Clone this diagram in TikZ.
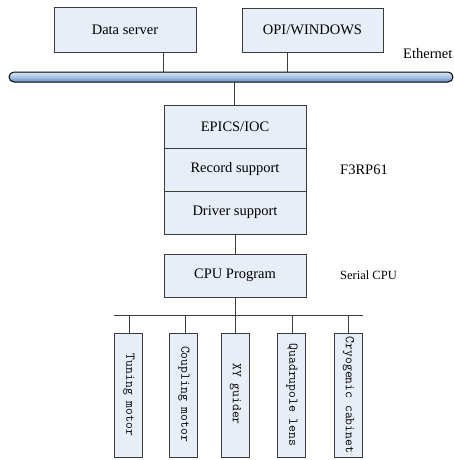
\documentclass[tikz,border=0pt]{standalone}
\usepackage{fontspec}
\setmainfont{Liberation Serif}
\definecolor{boxfill}{RGB}{232,238,247}
\definecolor{linec}{RGB}{60,60,60}
\definecolor{busmid}{RGB}{165,195,228}
\definecolor{busdark}{RGB}{100,135,185}
\begin{document}
\begin{tikzpicture}[x=1pt,y=-1pt,
  box/.style={draw=linec,line width=0.8pt,fill=boxfill,inner sep=0pt,outer sep=0pt,font=\fontsize{14.5}{16}\selectfont},
  vbox/.style={draw=linec,line width=0.8pt,fill=boxfill,inner sep=0pt,outer sep=0pt,minimum width=28pt,minimum height=124pt},
  vtext/.style={rotate=-90,font=\ttfamily\fontsize{13.3}{14}\selectfont,inner sep=0pt},
  link/.style={draw=linec,line width=0.9pt},
  lbl/.style={font=\fontsize{14.5}{16}\selectfont,inner sep=0pt,anchor=west}]
\useasboundingbox (0,0) rectangle (454,460);
% top boxes
\node[box,minimum width=142pt,minimum height=45pt] (ds) at (125,29.5) {Data server};
\node[box,minimum width=141pt,minimum height=44pt] (opi) at (312.5,30) {OPI/WINDOWS};
\node[lbl] (eth) at (403,54) {Ethernet};
% bus
\node[draw=black,line width=1pt,rounded corners=5pt,top color=busmid!40!white,bottom color=busdark,middle color=busmid,minimum width=444pt,minimum height=10pt,inner sep=0pt] (bus) at (231,77) {};
\coordinate (bds) at (163,72);
\coordinate (bopi) at (287,72);
\coordinate (bioc) at (234,82);
\draw[link] (ds.south -| bds) -- (bds);
\draw[link] (opi.south -| bopi) -- (bopi);
% F3RP61 stack
\node[box,minimum width=142pt,minimum height=43pt] (epics) at (235,126.5) {EPICS/IOC};
\node[box,minimum width=142pt,minimum height=43pt,anchor=north] (rec) at (epics.south) {Record support};
\node[box,minimum width=142pt,minimum height=43pt,anchor=north] (drv) at (rec.south) {Driver support};
\node[lbl] (f3) at (340,170) {F3RP61};
\draw[link] (bioc) -- (bioc |- epics.north);
% CPU
\node[box,minimum width=142pt,minimum height=43pt] (cpu) at (235,275.5) {CPU Program};
\node[lbl,font=\fontsize{12.5}{14}\selectfont] (ser) at (340,275) {Serial CPU};
\draw[link] (drv.south) -- (cpu.north);
% lower bus
\coordinate (hl) at (114,315);
\coordinate (hr) at (363,315);
\draw[link] (hl) -- (hr);
\draw[link] (cpu.south) -- (cpu.south |- hl);
% devices
\node[vbox] (d1) at (128.5,395) {};
\node[vbox] (d2) at (183.5,395) {};
\node[vbox] (d3) at (235,395) {};
\node[vbox] (d4) at (291.5,395) {};
\node[vbox] (d5) at (348,395) {};
\node[vtext] (t1) at (129,395) {Tuning motor};
\node[vtext] (t2) at (184,394) {Coupling motor};
\node[vtext] (t3) at (235.5,394) {XY guider};
\node[vtext] (t4) at (292,395) {Quadrupole lens};
\node[vtext] (t5) at (348.5,395) {Cryogenic cabinet};
\draw[link] (129,315) -- (d1.north -| 129,0);
\draw[link] (185,315) -- (d2.north -| 185,0);
\draw[link] (235,315) -- (d3.north);
\draw[link] (292,315) -- (d4.north -| 292,0);
\draw[link] (348,315) -- (d5.north);
\end{tikzpicture}
\end{document}
